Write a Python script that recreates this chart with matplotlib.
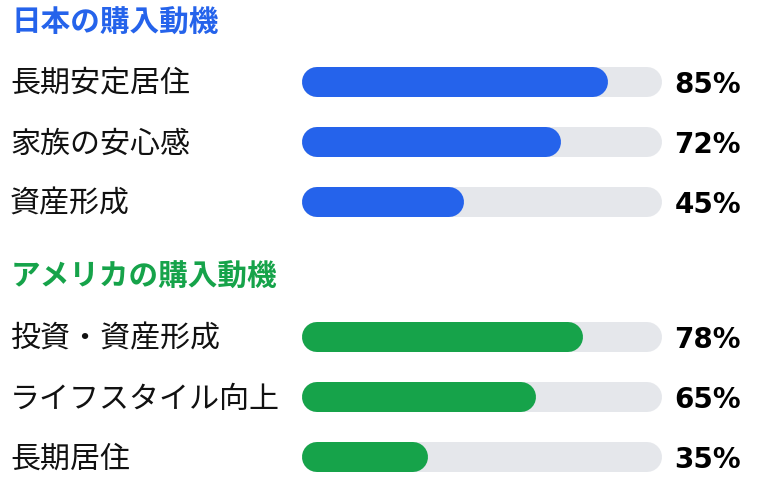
import matplotlib
matplotlib.use("Agg")
import matplotlib.pyplot as plt

plt.rcParams['font.family'] = ['Noto Sans CJK JP', 'DejaVu Sans']

# Data
group_titles = ["日本の購入動機", "アメリカの購入動機"]
japan_labels = ["長期安定居住", "家族の安心感", "資産形成"]
japan_values = [85, 72, 45]
us_labels = ["投資・資産形成", "ライフスタイル向上", "長期居住"]
us_values = [78, 65, 35]

groups = [
    (group_titles[0], japan_labels, japan_values, "#2563EB"),
    (group_titles[1], us_labels, us_values, "#16A34A"),
]

W, H = 771, 488
fig = plt.figure(figsize=(W / 100, H / 100), dpi=100)
ax = fig.add_axes([0, 0, 1, 1])
ax.set_xlim(0, W)
ax.set_ylim(H, 0)
ax.axis("off")

track_x0, track_w = 302, 360
bar_h_px = 30
lw_pt = bar_h_px * 72 / 100
cap = bar_h_px / 2
track_color = "#E5E7EB"

title_y = [23, 277]
row_y0 = [82, 337]
row_gap = 60

for gi, (title, labels, values, color) in enumerate(groups):
    ax.text(11, title_y[gi], title, fontsize=21.3, fontweight="bold",
            color=color, ha="left", va="center")
    for i, (lab, v) in enumerate(zip(labels, values)):
        y = row_y0[gi] + i * row_gap
        ax.text(10, y + 2, lab, fontsize=21.6, color="#111111",
                ha="left", va="center")
        ax.plot([track_x0 + cap, track_x0 + track_w - cap], [y, y],
                color=track_color, lw=lw_pt, solid_capstyle="round", zorder=1)
        x_end = track_x0 + track_w * v / 100
        ax.plot([track_x0 + cap, x_end - cap], [y, y],
                color=color, lw=lw_pt, solid_capstyle="round", zorder=2)
        ax.text(741, y + 3, f"{v}%", fontsize=20, fontweight="bold",
                family=["DejaVu Sans"],
                color="#000000", ha="right", va="center")

fig.savefig("out.png", dpi=100)
